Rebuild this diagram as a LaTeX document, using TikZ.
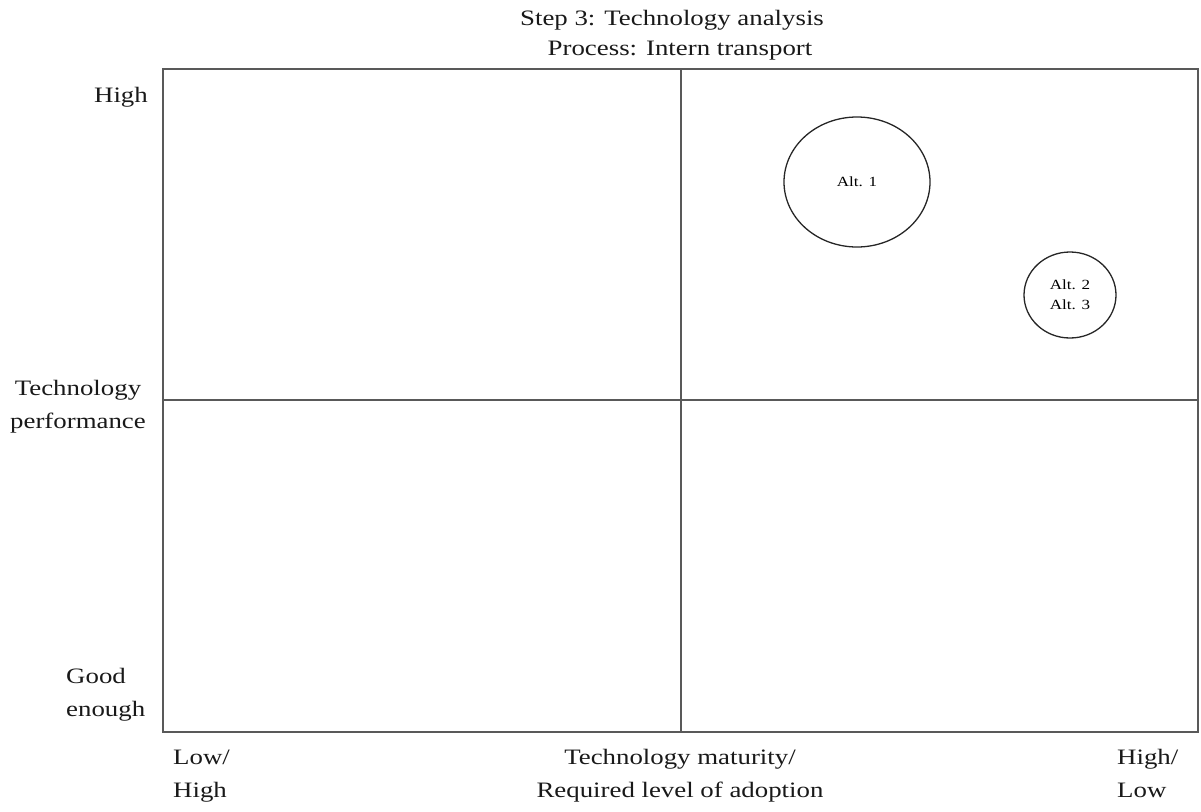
\documentclass[tikz,border=0pt]{standalone}
\usepackage{fontspec}
\setmainfont[FakeStretch=1.22]{Liberation Serif}
\usetikzlibrary{shapes.geometric}
\begin{document}
\begin{tikzpicture}[x=1pt,y=-1pt,
  lbl/.style={inner sep=0pt,font=\fontsize{22}{33}\selectfont,text=black!90,text height=16pt,text depth=5pt},
  alt/.style={draw=black!85,line width=1.3pt,ellipse,inner sep=0pt,font=\fontsize{14}{20}\selectfont},
  axis/.style={draw=black!65,line width=1.6pt}]
\useasboundingbox (0,0) rectangle (1201,811);
% frame and quadrant dividers
\node[axis,rectangle,minimum width=1035,minimum height=663,anchor=north west,inner sep=0pt] (frame) at (162,68) {};
\coordinate (mt) at (681,68);
\coordinate (mb) at (681,731);
\coordinate (ml) at (162,400);
\coordinate (mr) at (1197,400);
\draw[axis] (mt) -- (mb);
\draw[axis] (ml) -- (mr);
% title
\node[lbl] (t1) at (672,20) {Step 3: Technology analysis};
\node[lbl] (t2) at (680,50) {Process: Intern transport};
% vertical axis labels
\node[lbl,anchor=east] (hi) at (148,97) {High};
\node[lbl,align=center] (perf) at (78,423) {Technology\\performance};
\node[lbl,align=left,anchor=west] (good) at (66,711) {Good\\enough};
% horizontal axis labels
\node[lbl,align=left,anchor=west] (low) at (173,792) {Low/\\High};
\node[lbl,align=center] (mat) at (680,792) {Technology maturity/\\Required level of adoption};
\node[lbl,align=left,anchor=west] (high) at (1117,792) {High/\\Low};
% alternatives
\node[alt,minimum width=146,minimum height=130] (a1) at (857,182) {Alt. 1};
\node[alt,minimum width=92,minimum height=86,align=center] (a23) at (1070,295) {Alt. 2\\Alt. 3};
\end{tikzpicture}
\end{document}
